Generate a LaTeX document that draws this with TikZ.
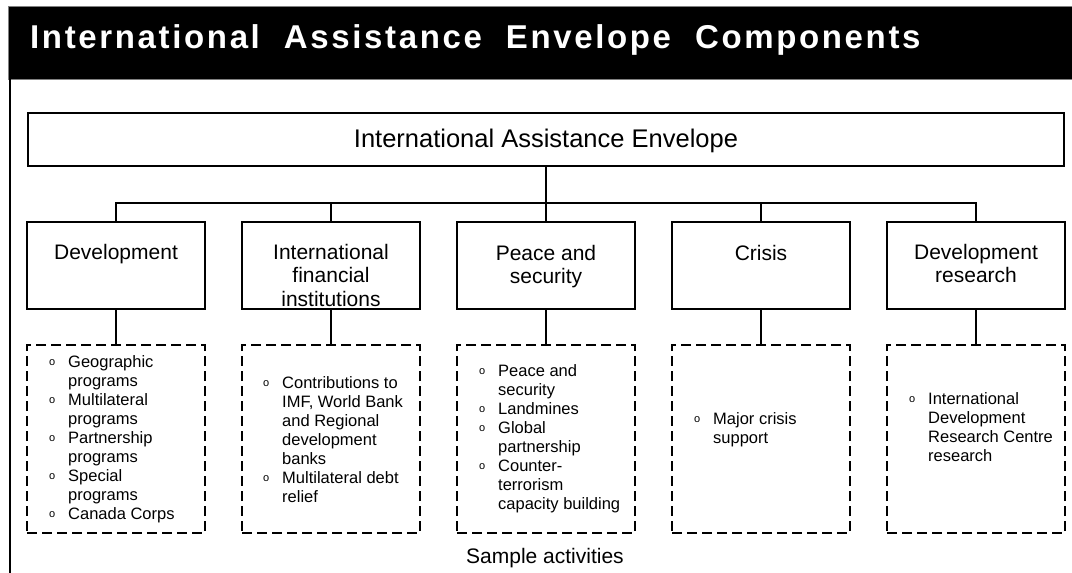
\documentclass[tikz,border=0pt]{standalone}
\usepackage{fontspec}
\setmainfont{Liberation Sans}
\newfontfamily\headfont[LetterSpace=8]{Liberation Sans}
% bullet: hollow "o" centred on the column's left edge, text starts 16pt later
\newcommand{\blt}{\makebox[16pt][l]{\makebox[0pt][c]{\raisebox{1.4pt}{\fontsize{11}{11}\selectfont o}}}}
\newcommand{\actlist}[1]{\begin{tabular}{@{}l@{}l@{}}#1\end{tabular}}
\begin{document}
\begin{tikzpicture}[x=1pt,y=-1pt,
  topbox/.style={draw, line width=1.3pt, minimum width=1036pt, minimum height=53pt, inner sep=0pt},
  catbox/.style={draw, line width=1.3pt, minimum width=178pt, minimum height=87pt, inner sep=0pt},
  actbox/.style={draw, line width=2.4pt, dash pattern=on 10pt off 5pt, minimum width=178pt, minimum height=188pt, inner sep=0pt},
  catlabel/.style={anchor=north, align=center, inner sep=0pt, font=\fontsize{21}{23.5}\selectfont},
  actlist/.style={anchor=north west, inner sep=0pt, font=\fontsize{16.5}{19}\selectfont},
  link/.style={line width=1.2pt},
  boldlink/.style={line width=2.4pt}
]
\useasboundingbox (0,0) rectangle (1072,573);

% heading band
\draw[fill=black, draw=gray, line width=1pt] (8,6) rectangle (1073,79);
\node[anchor=base west, inner sep=0pt, text=white,
      font=\headfont\bfseries\fontsize{33}{36}\selectfont] (title) at (30,48)
      {\spaceskip=24pt\relax International Assistance Envelope Components};
\draw[link] (10,79) -- (10,573);

% top level
\node[topbox] (env) at (546,139.5) {};
\node[anchor=base, inner sep=0pt, font=\fontsize{25.5}{28}\selectfont] (envT) at (546,147)
      {International Assistance Envelope};

% components
\node[catbox] (dev)    at (116,265.5) {};
\node[catbox] (ifi)    at (331,265.5) {};
\node[catbox] (peace)  at (546,265.5) {};
\node[catbox] (crisis) at (761,265.5) {};
\node[catbox] (res)    at (976,265.5) {};

\node[catlabel] (devT)    at (116,244) {Development};
\node[catlabel] (ifiT)    at (331,244) {International\\financial\\institutions};
\node[catlabel] (peaceT)  at (546,245) {Peace and\\security};
\node[catlabel] (crisisT) at (761,245) {Crisis};
\node[catlabel] (resT)    at (976,244) {Development\\research};

% sample activity boxes
\node[actbox] (devA)    at (116,439) {};
\node[actbox] (ifiA)    at (331,439) {};
\node[actbox] (peaceA)  at (546,439) {};
\node[actbox] (crisisA) at (761,439) {};
\node[actbox] (resA)    at (976,439) {};

\node[actlist] (devL) at (52,353.5) {\actlist{
  \blt & Geographic\\ & programs\\
  \blt & Multilateral\\ & programs\\
  \blt & Partnership\\ & programs\\
  \blt & Special\\ & programs\\
  \blt & Canada Corps}};
\node[actlist] (ifiL) at (266,374.5) {\actlist{
  \blt & Contributions to\\ & IMF, World Bank\\ & and Regional\\ & development\\ & banks\\
  \blt & Multilateral debt\\ & relief}};
\node[actlist] (peaceL) at (482,362.5) {\actlist{
  \blt & Peace and\\ & security\\
  \blt & Landmines\\
  \blt & Global\\ & partnership\\
  \blt & Counter-\\ & terrorism\\ & capacity building}};
\node[actlist] (crisisL) at (697,410.5) {\actlist{
  \blt & Major crisis\\ & support}};
\node[actlist] (resL) at (912,390.5) {\actlist{
  \blt & International\\ & Development\\ & Research Centre\\ & research}};

\node[anchor=base, inner sep=0pt, font=\fontsize{21}{24}\selectfont] (sample) at (545,563)
      {Sample activities};

% connectors
\coordinate (bus) at (546,203);
\draw[link] (env.south) -- (bus);
\draw[link] (dev.north) |- (bus) -| (res.north);
\draw[link] (ifi.north) -- (ifi.north |- bus);
\draw[link] (crisis.north) -- (crisis.north |- bus);
\draw[boldlink] (bus) -- (peace.north);

\draw[boldlink] (dev.south) -- (devA.north);
\draw[link] (ifi.south) -- (ifiA.north);
\draw[link] (peace.south) -- (peaceA.north);
\draw[link] (crisis.south) -- (crisisA.north);
\draw[link] (res.south) -- (resA.north);
\end{tikzpicture}
\end{document}
